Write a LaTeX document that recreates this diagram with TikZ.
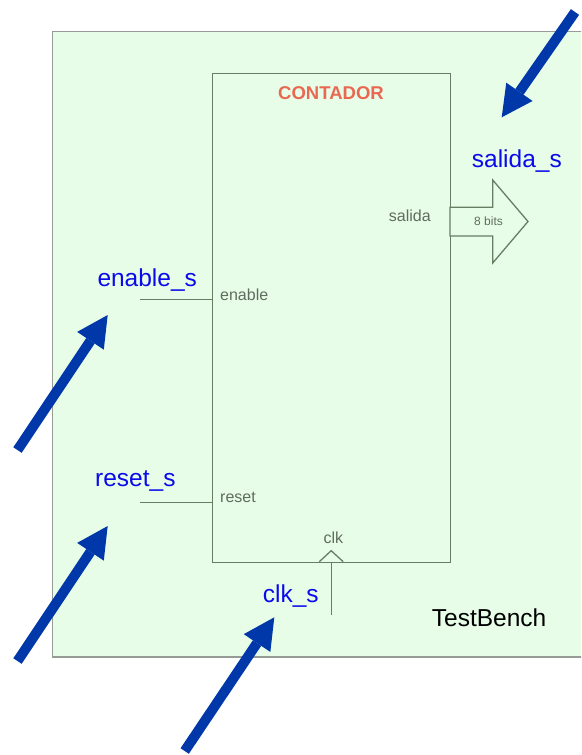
\documentclass[tikz,border=0pt]{standalone}
\usepackage{fontspec}
\setmainfont{Liberation Sans}
\usetikzlibrary{arrows.meta}

\definecolor{benchfill}{RGB}{232,253,232}
\definecolor{benchedge}{RGB}{150,155,150}
\definecolor{wirecol}{RGB}{105,125,100}
\definecolor{pingray}{RGB}{95,108,95}
\definecolor{sigblue}{RGB}{10,10,235}
\definecolor{ptrblue}{RGB}{0,56,170}
\definecolor{titlered}{RGB}{232,104,82}

\tikzset{
  wire/.style={draw=wirecol, line width=1.3pt},
  sig/.style={text=sigblue, font=\fontsize{24.5}{28}\selectfont, inner sep=0pt, anchor=base west},
  pin/.style={text=pingray, font=\fontsize{16}{19}\selectfont, inner sep=0pt, anchor=base west},
  pointer/.style={draw=ptrblue, line width=10pt,
    -{Triangle[length=31pt,width=32pt,line width=0pt]}},
}

\begin{document}
\begin{tikzpicture}[x=1pt,y=-1pt]
\useasboundingbox (0,0) rectangle (581,755);
\clip (0,0) rectangle (581,755);

% test bench frame (runs off the right edge)
\node[draw=benchedge, fill=benchfill, line width=1.5pt, inner sep=0pt,
      minimum width=560pt, minimum height=625.5pt, anchor=north west]
      (bench) at (51.5,30.5) {};

% counter block
\node[draw=wirecol, fill=benchfill, line width=1.3pt, inner sep=0pt,
      minimum width=238pt, minimum height=488.7pt, anchor=north west]
      (cnt) at (212,73) {};
\node[text=titlered, font=\bfseries\fontsize{18.5}{22}\selectfont, inner sep=0pt, anchor=base]
      (title) at (331,99.3) {CONTADOR};

% 8-bit output bus arrow
\coordinate (busA) at (450,207.3);
\coordinate (busB) at (492.7,207.3);
\coordinate (busC) at (492.7,180);
\coordinate (busTip) at (528,221.5);
\coordinate (busD) at (492.7,263);
\coordinate (busE) at (492.7,236);
\coordinate (busF) at (450,236);
\filldraw[wire, fill=benchfill] (busA) -- (busB) -- (busC) -- (busTip) -- (busD) -- (busE) -- (busF) -- cycle;
\node[text=pingray, font=\fontsize{12}{14}\selectfont, inner sep=0pt, anchor=base west]
      (bits) at (474,225.7) {8 bits};
\node[pin] (salida) at (388.7,221) {salida};
\node[sig] (salidas) at (471.7,167.7) {salida\_s};

% enable input
\coordinate (enS) at (140,299.3);
\coordinate (enP) at (212,299.3);
\draw[wire] (enS) -- (enP);
\node[pin] (enable) at (220,300.7) {enable};
\node[sig] (enables) at (97.3,286.7) {enable\_s};

% reset input
\coordinate (rsS) at (140,502.3);
\coordinate (rsP) at (212,502.3);
\draw[wire] (rsS) -- (rsP);
\node[pin] (reset) at (220,502.7) {reset};
\node[sig] (resets) at (95,486.7) {reset\_s};

% clock input with edge marker
\coordinate (ckL) at (319.3,561.7);
\coordinate (ckT) at (331.2,550.7);
\coordinate (ckR) at (343.2,561.7);
\coordinate (ckP) at (331.2,561.7);
\coordinate (ckS) at (331.2,615);
\draw[wire] (ckL) -- (ckT) -- (ckR);
\draw[wire] (ckS) -- (ckP);
\node[pin] (clk) at (323.3,543.3) {clk};
\node[sig] (clks) at (262.7,602.7) {clk\_s};

\node[text=black, font=\fontsize{24.5}{28}\selectfont, inner sep=0pt, anchor=base west]
      (tbname) at (431.7,626) {TestBench};

% pointer arrows
\coordinate (p1s) at (575,12);
\coordinate (p1t) at (501.7,117.3);
\coordinate (p2s) at (17.5,450);
\coordinate (p2t) at (107.7,315);
\coordinate (p3s) at (17.5,661);
\coordinate (p3t) at (107.7,526);
\coordinate (p4s) at (184.7,751);
\coordinate (p4t) at (274.3,617.3);
\draw[pointer] (p1s) -- (p1t);
\draw[pointer] (p2s) -- (p2t);
\draw[pointer] (p3s) -- (p3t);
\draw[pointer] (p4s) -- (p4t);
\end{tikzpicture}
\end{document}
